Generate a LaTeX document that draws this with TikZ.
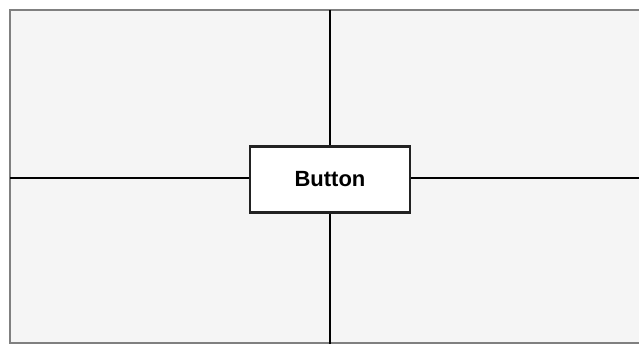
\documentclass[tikz,border=0pt]{standalone}
\usepackage{fontspec}
\setmainfont{Liberation Sans}
\definecolor{panelfill}{HTML}{F5F5F5}
\definecolor{panelline}{HTML}{808080}
\definecolor{btnline}{HTML}{222222}
\begin{document}
\begin{tikzpicture}[x=1pt,y=-1pt,
  panel/.style={fill=panelfill,draw=panelline,line width=2pt},
  btn/.style={draw=btnline,fill=white,line width=2.2pt,minimum width=160pt,minimum height=66pt,inner sep=0pt,font=\fontsize{22}{26}\selectfont\bfseries},
  wire/.style={draw=black,line width=2.2pt}]
\useasboundingbox (0,0) rectangle (639,344);
\draw[panel] (10,10) rectangle (680,343);
\coordinate (t) at (330,10);
\coordinate (d) at (330,344);
\coordinate (l) at (10,178);
\coordinate (r) at (639,178);
\node[btn] (b) at (330,179.5) {Button};
\draw[wire] (t) -- (b.north);
\draw[wire] (b.south) -- (d);
\draw[wire] (l) -- (b.west |- l);
\draw[wire] (b.east |- r) -- (r);
\end{tikzpicture}
\end{document}
